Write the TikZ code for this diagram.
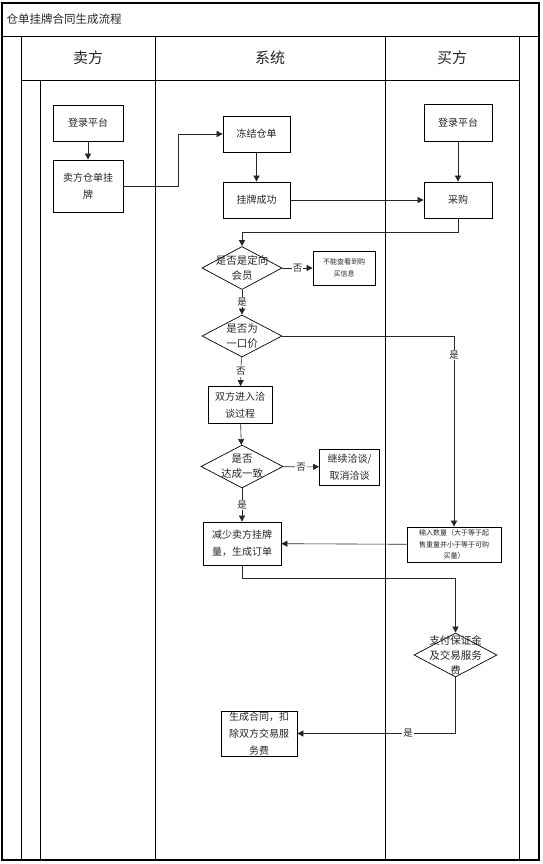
\documentclass[tikz,border=0pt]{standalone}
\usepackage{fontspec}
\setmainfont{Noto Sans CJK SC}
\usetikzlibrary{shapes.geometric,arrows.meta}

\begin{document}
\begin{tikzpicture}[x=1pt,y=-1pt,
  proc/.style={draw,line width=.7pt,align=center,inner sep=1pt,text=black!85,font=\fontsize{10}{17}\selectfont},
  small/.style={font=\fontsize{7}{11.5}\selectfont},
  decide/.style={diamond,draw,line width=.7pt,inner sep=0pt,minimum width=80pt,minimum height=43pt},
  ask/.style={align=center,text=black!85,font=\fontsize{10.5}{15}\selectfont},
  flow/.style={draw=black!85,line width=.6pt,-{Triangle[length=6pt,width=6pt]}},
  yn/.style={fill=white,inner sep=1pt,text=black!85,font=\fontsize{9.5}{10}\selectfont}]
\useasboundingbox (0,0) rectangle (542,864);

% lanes
\draw[line width=1.1pt] (2,3) rectangle (539,860);
\draw[line width=.8pt] (2,36) -- (539,36);
\draw[line width=.8pt] (21,36) -- (21,860) (155,36) -- (155,860) (385,36) -- (385,860) (519,36) -- (519,860);
\draw[line width=.8pt] (21,80) -- (519,80) (40,80) -- (40,860);
\node[anchor=west,text=black!85,font=\fontsize{11.5}{12}\selectfont] (title) at (3,19) {仓单挂牌合同生成流程};
\node[text=black!85,font=\fontsize{15}{16}\selectfont] (seller) at (88,58) {卖方};
\node[text=black!85,font=\fontsize{15}{16}\selectfont] (system) at (270,58) {系统};
\node[text=black!85,font=\fontsize{15}{16}\selectfont] (buyer) at (452,58) {买方};

% seller
\node[proc,minimum width=70pt,minimum height=36pt] (slogin) at (88,123) {登录平台};
\node[proc,minimum width=70pt,minimum height=52pt] (slist) at (88,186) {卖方仓单挂\\牌};

% system
\node[proc,minimum width=67pt,minimum height=36pt] (freeze) at (256.5,134) {冻结仓单};
\node[proc,minimum width=67pt,minimum height=36pt] (listed) at (256.5,200) {挂牌成功};
\node[decide,label={[ask]center:是否是定向\\会员}] (member) at (242,268) {};
\node[proc,small,minimum width=62pt,minimum height=34pt] (nobuy) at (344,268) {不能查看到购\\买信息};
\node[decide,minimum height=42pt,label={[ask]center:是否为\\一口价}] (fixed) at (242,336) {};
\node[proc,minimum width=64pt,minimum height=37pt] (talk) at (240,405) {双方进入洽\\谈过程};
\node[decide,minimum width=82pt,label={[ask]center:是否\\达成一致}] (agree) at (242,466.5) {};
\node[proc,minimum width=60pt,minimum height=36pt] (goon) at (349.5,467) {继续洽谈/\\取消洽谈};
\node[proc,minimum width=78pt,minimum height=43pt] (order) at (242,543.5) {减少卖方挂牌\\量，生成订单};
\node[proc,minimum width=76pt,minimum height=41pt] (contract) at (259,733.5) {生成合同，扣\\除双方交易服\\务费};

% buyer
\node[proc,minimum width=68pt,minimum height=37pt] (blogin) at (458,122.5) {登录平台};
\node[proc,minimum width=68pt,minimum height=36pt] (buy) at (458,200) {采购};
\node[proc,small,minimum width=94pt,minimum height=35pt] (amount) at (454,544.5) {输入数量（大于等于起\\售重量并小于等于可购\\买量）};
\node[decide,minimum width=83pt,minimum height=44pt,label={[ask]center:支付保证金\\及交易服务\\费}] (pay) at (455.5,655) {};

% connectors
\draw[flow] (slogin) -- (slist);
\draw[flow] (slist.east) -- ++(55,0) |- (freeze.west);
\draw[flow] (freeze) -- (listed);
\draw[flow] (listed) -- (buy);
\draw[flow] (blogin) -- (buy);
\draw[flow] (buy.south) -- ++(0,14) -| (member.north);
\draw[flow] (member) -- node[yn] {否} (nobuy);
\draw[flow] (member) -- node[yn] {是} (fixed);
\draw[flow] (fixed.east) -| node[yn,pos=.55] {是} (amount.north);
\draw[flow] (fixed) -- node[yn] {否} (talk);
\draw[flow] (talk) -- (agree);
\draw[flow] (agree) -- node[yn] {否} (goon);
\draw[flow] (agree) -- node[yn] {是} (order);
\draw[flow] (amount) -- (order);
\draw[flow] (order.south) -- ++(0,13) -| (pay.north);
\draw[flow] (pay.south) |- node[yn,pos=.65] {是} (contract.east);
\end{tikzpicture}
\end{document}
